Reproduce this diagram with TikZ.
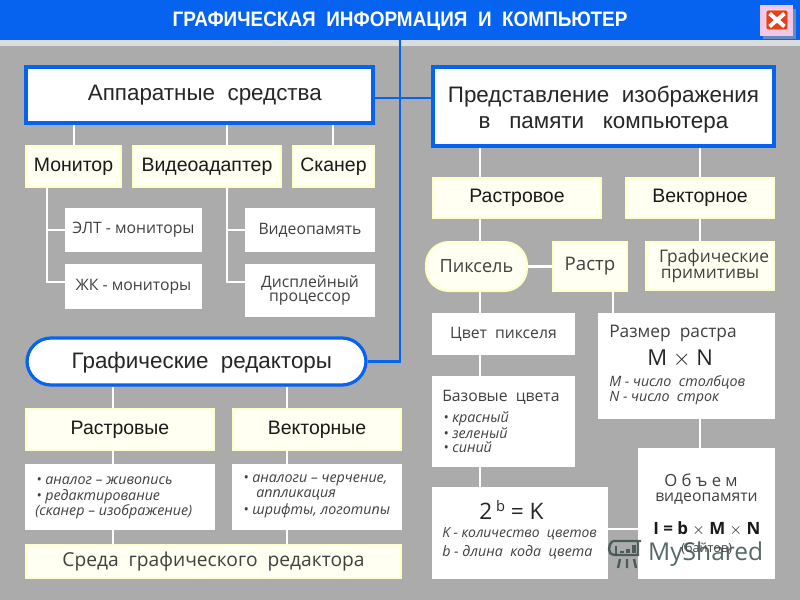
\documentclass[tikz,border=0pt]{standalone}
\usepackage{fontspec}
\setmainfont{Liberation Sans}
\newfontfamily\lightfont{Open Sans}
\newfontfamily\titlefont[FakeStretch=0.905]{Liberation Sans}
\usetikzlibrary{calc}
\definecolor{barblue}{HTML}{0563F0}
\definecolor{backgray}{HTML}{ABABAB}
\definecolor{stripgray}{HTML}{DCDCDC}
\definecolor{paleyellow}{HTML}{FFFFF2}
\definecolor{edgeyellow}{HTML}{FFFFC8}
\definecolor{closepink}{HTML}{F2C8E8}
\definecolor{closered}{HTML}{E8401C}
\definecolor{markgray}{HTML}{3A4E4C}
\tikzset{
  headbox/.style={draw=barblue,line width=2.4pt,fill=white,font=\fontsize{16.8pt}{19.5pt}\selectfont,align=center,text=black!85},
  pillbox/.style={headbox,rounded corners=18pt},
  yellowbox/.style={draw=edgeyellow,line width=1.5pt,fill=paleyellow,font=\fontsize{14.6pt}{16pt}\selectfont,text=black!90},
  yellowlight/.style={yellowbox,font=\lightfont\fontsize{13.6pt}{12.5pt}\selectfont,text=black!75,align=center},
  yellowpill/.style={yellowlight,rounded corners=17pt},
  whitebox/.style={fill=white,font=\lightfont\fontsize{11.8pt}{12pt}\selectfont,align=center,text=black!75},
  textline/.style={anchor=west,inner sep=0pt,font=\lightfont\fontsize{11.8pt}{13pt}\selectfont,text=black!75},
  noteline/.style={textline,font=\lightfont\itshape\fontsize{10.7pt}{11pt}\selectfont},
  link/.style={draw=white,line width=1.6pt},
  bus/.style={draw=barblue,line width=2.2pt}
}
\newcommand{\tikzBoxNode}[7][whitebox]{
  \node[#1,inner sep=0pt,minimum width={(#5-#3)*0.75},minimum height={(#6-#4)*0.75}] (#2) at ({(#3+#5)/2},{(#4+#6)/2}) {#7};
}
\begin{document}
\begin{tikzpicture}[x=0.75pt,y=-0.75pt]
  \useasboundingbox (0,0) rectangle (800,600);
  \fill[backgray] (0,0) rectangle (800,600);
  \fill[stripgray] (0,40) rectangle (800,46);

  %title
  \node[fill=barblue,inner sep=0pt,minimum width=600pt,minimum height=30pt,text=white] (bar) at (400,20) {};
  \node[text=white,inner sep=0pt,font=\titlefont\bfseries\fontsize{15.7pt}{17pt}\selectfont] (title) at (400,21) {ГРАФИЧЕСКАЯ\ \ ИНФОРМАЦИЯ\ \ И\ \ КОМПЬЮТЕР};
  \fill[black!35,fill opacity=0.6] (763,9) rectangle (796,39);
  \tikzBoxNode[fill=closepink]{close}{760}{5}{793}{36}{}
  \tikzBoxNode[fill=closered,draw=white,line width=0.6pt,rounded corners=1pt]{closex}{766}{10}{788}{30}{}
  \draw[white,line width=3pt] ($(closex.north west)+(4,4)$) -- ($(closex.south east)+(-4,-4)$)
    ($(closex.north east)+(-4,4)$) -- ($(closex.south west)+(4,-4)$);

  %left side, hardware
  \tikzBoxNode[headbox]{hw}{26}{67}{373}{123}{\hspace*{8pt}Аппаратные\ \ средства}
  \tikzBoxNode[yellowbox]{mon}{26}{146}{121}{187}{Монитор}
  \tikzBoxNode[yellowbox]{vid}{133}{146}{281}{187}{Видеоадаптер}
  \tikzBoxNode[yellowbox]{scan}{293}{146}{374}{187}{Сканер}
  \tikzBoxNode{elt}{65}{208}{202}{252}{ЭЛТ - мониторы}
  \tikzBoxNode{lcd}{65}{264}{202}{309}{ЖК - мониторы}
  \tikzBoxNode{vmem}{245}{208}{375}{252}{Видеопамять}
  \tikzBoxNode{disp}{245}{264}{375}{317}{Дисплейный\\[-1pt]процессор}

  %left side, editors
  \tikzBoxNode[pillbox]{ge}{27}{338}{366}{385}{\hspace*{8pt}\rule{0pt}{14.5pt}Графические\ \ редакторы}
  \tikzBoxNode[yellowbox]{rr}{26}{409}{214}{450}{Растровые}
  \tikzBoxNode[yellowbox]{vr}{233}{409}{401}{450}{Векторные}
  \tikzBoxNode{rl}{25}{464}{215}{530}{}
  \tikzBoxNode{vl}{232}{464}{402}{530}{}
  \tikzBoxNode[yellowlight,font=\lightfont\fontsize{14.4pt}{16pt}\selectfont]{env}{26}{545}{401}{578}{Среда\ \ графического\ \ редактора}
  \node[noteline] (rl1) at (36,481) {• аналог – живопись};
  \node[noteline] (rl2) at (36,497) {• редактирование};
  \node[noteline] (rl3) at (35,512) {(сканер – изображение)};
  \node[noteline] (vl1) at (243,480) {• аналоги – черчение,};
  \node[noteline] (vl2) at (256,495) {аппликация};
  \node[noteline] (vl3) at (243,511) {• шрифты, логотипы};

  %right side
  \tikzBoxNode[headbox]{rep}{433}{67}{774}{146}{\rule{0pt}{17pt}Представление\ \ изображения\\в\ \ \ памяти\ \ \ компьютера}
  \tikzBoxNode[yellowbox]{ras}{433}{178}{601}{218}{Растровое}
  \tikzBoxNode[yellowbox]{vec}{626}{178}{774}{218}{Векторное}
  \tikzBoxNode[yellowpill]{pix}{426}{242}{527}{291}{Пиксель}
  \tikzBoxNode[yellowlight,font=\lightfont\fontsize{14pt}{14pt}\selectfont]{rast}{553}{242}{627}{291}{Растр}
  \tikzBoxNode[yellowlight,font=\lightfont\fontsize{13pt}{12.2pt}\selectfont]{prim}{646}{242}{774}{290}{\hspace*{6pt}Графические\\примитивы}
  \tikzBoxNode{col}{432}{313}{575}{355}{Цвет\ \ пикселя}
  \tikzBoxNode{size}{598}{313}{775}{419}{}
  \tikzBoxNode{base}{432}{376}{575}{467}{}
  \tikzBoxNode{pow}{432}{487}{608}{579}{}
  \tikzBoxNode{vol}{638}{448}{775}{579}{}

  %texts of the big boxes
  \node[textline,font=\lightfont\fontsize{13pt}{14pt}\selectfont] (size1) at (609,333) {Размер\ \ растра};
  \node[textline,font=\lightfont\fontsize{16.5pt}{18pt}\selectfont,text=black!85] (size2) at (647,359) {M $\times$ N};
  \node[noteline] (size3) at (609,382) {M - число\ \ столбцов};
  \node[noteline] (size4) at (609,398) {N - число\ \ строк};
  \node[textline] (base1) at (442,397) {Базовые\ \ цвета};
  \node[noteline] (base2) at (443,419) {• красный};
  \node[noteline] (base3) at (443,433) {• зеленый};
  \node[noteline] (base4) at (443,447) {• синий};
  \node[textline,font=\lightfont\fontsize{17pt}{18pt}\selectfont,text=black!85] (pow1) at (479,510) {2\,\raisebox{6pt}{\fontsize{11pt}{12pt}\selectfont b} = K};
  \node[noteline,font=\lightfont\itshape\fontsize{10.4pt}{11pt}\selectfont] (pow2) at (442,534) {K - количество\ \ цветов};
  \node[noteline] (pow3) at (442,552) {b - длина\ \ кода\ \ цвета};
  \node[textline,font=\lightfont\fontsize{12.5pt}{14pt}\selectfont] (vol1) at (664,480) {О б ъ е м};
  \node[textline] (vol2) at (655,499) {видеопамяти};
  \node[textline,font=\lightfont\bfseries\fontsize{12.7pt}{14pt}\selectfont,text=black!90] (vol3) at (653,529) {I = b $\times$ M $\times$ N};
  \node[textline,font=\lightfont\fontsize{9.5pt}{11pt}\selectfont] (vol4) at (681,549) {(байтов)};

  %connectors
  \foreach \x/\a/\b in {74/hw/mon,227/hw/vid,333/hw/scan,113/ge/rr,287/ge/vr,113/rr/rl,287/vr/vl,113/rl/env,287/vl/env,
    480/rep/ras,700/rep/vec,480/ras/pix,700/vec/prim,480/pix/col,613/rast/size,480/col/base,480/base/pow,700/size/vol}
    \path[link] (\x,0 |- \a.south) -- (\x,0 |- \b.north);
  \path[link] (47,0 |- mon.south) |- (lcd.west |- 0,282);
  \path[link] (47,0 |- elt.west) -- (elt.west);
  \path[link] (227,0 |- vid.south) |- (disp.west |- 0,282);
  \path[link] (227,0 |- vmem.west) -- (vmem.west);
  \path[link] (pix.east) -- (rast.west);
  \path[link] (pow.east |- 0,529) -- (vol.west |- 0,529);
  \path[bus] (ge.east) -| (bar.south);
  \path[bus] (hw.east |- 0,98) -- (rep.west |- 0,98);

  %watermark
  \begin{scope}[draw=markgray,opacity=0.85,line width=1.8pt]
    \draw (613,541) -- (641,541) (613,541) .. controls (607,545) and (608,555) .. (614,555) -- (638,555) -- (638,541);
    \draw (616,555) -- (616,546);
    \draw[line width=2.6pt] (622,553) -- (622,551) (628,553) -- (628,549) (634,553) -- (634,545);
    \draw (620,559) -- (618,568) (627,559) -- (627,568) (634,559) -- (636,568);
    \node[text=markgray,inner sep=0pt,anchor=west,font=\lightfont\fontsize{18.4pt}{20pt}\selectfont] (mark) at (647,554) {MyShared};
  \end{scope}
\end{tikzpicture}
\end{document}
